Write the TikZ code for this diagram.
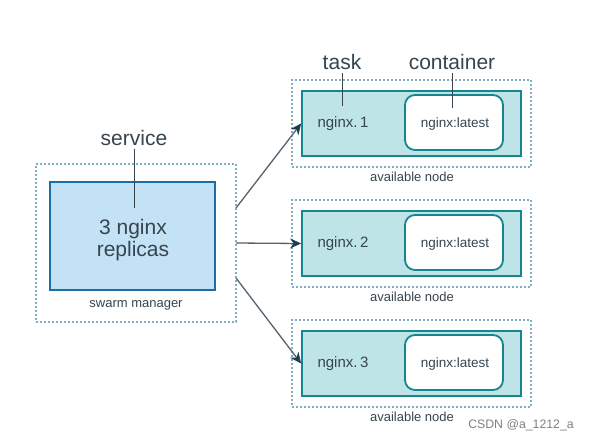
\documentclass[tikz,border=0pt]{standalone}
\usepackage{fontspec}
\setmainfont{Liberation Sans}
\usetikzlibrary{arrows.meta,positioning}

\definecolor{txtgray}{HTML}{36454F}
\definecolor{dotblue}{HTML}{7FAFC0}
\definecolor{mgrfill}{HTML}{C3E2F5}
\definecolor{mgrline}{HTML}{1B6DA6}
\definecolor{nodefill}{HTML}{BEE4E8}
\definecolor{nodeline}{HTML}{15858F}
\definecolor{arrgray}{HTML}{56636C}
\definecolor{tipblue}{HTML}{1C3D58}

\tikzset{
  dotbox/.style={draw=dotblue, line width=2pt, dash pattern=on 1.6pt off 2.4pt},
  mgrbox/.style={draw=mgrline, fill=mgrfill, line width=1.8pt},
  taskbox/.style={draw=nodeline, fill=nodefill, line width=1.8pt},
  ctrbox/.style={draw=nodeline, fill=white, line width=1.8pt, rounded corners=10pt},
  biglabel/.style={text=txtgray, font=\fontsize{21}{25}\selectfont},
  smalllabel/.style={text=txtgray, font=\fontsize{13}{15}\selectfont},
  tasklabel/.style={text=txtgray, font=\fontsize{15}{17}\selectfont},
  ctrlabel/.style={text=txtgray, font=\fontsize{13.5}{16}\selectfont},
  pointer/.style={draw=txtgray, line width=1pt},
  dispatch/.style={draw=arrgray, line width=1.3pt, -{Stealth[length=11pt,width=10pt,fill=tipblue,color=tipblue]}}
}

\begin{document}
\begin{tikzpicture}[x=1pt, y=-1pt]
        \useasboundingbox[fill=white] (0,0) rectangle (592,440);

        % swarm manager
        \node[dotbox, minimum width=200pt, minimum height=158pt] (mgr) at (136,243) {};
        \node[mgrbox, minimum width=165pt, minimum height=108pt] (svc) at (132.5,236) {};
        \node[biglabel, align=center] (replicas) at (133,240) {3 nginx\\[-3pt]replicas};
        \node[smalllabel] (mgrname) at (136,305) {swarm manager};
        \node[biglabel] (service) at (134,138) {service};
        \coordinate (svcend) at (134,208);
        \draw[pointer] (service.south) -- (svcend);

        % available nodes
        \node[dotbox, minimum width=239pt, minimum height=87pt] (avail1) at (411.5,123.5) {};
        \node[taskbox, minimum width=219pt, minimum height=65pt] (task1) at (411.5,123.5) {};
        \node[ctrbox, minimum width=98pt, minimum height=55pt] (ctr1) at (454,122.5) {};
        \node[tasklabel] (tname1) at (343,124) {nginx.\,1};
        \node[ctrlabel] (cname1) at (455,124) {nginx:latest};
        \node[smalllabel] (aname1) at (412,177) {available node};

        \node[dotbox, minimum width=239pt, minimum height=87pt] (avail2) at (411.5,243.5) {};
        \node[taskbox, minimum width=219pt, minimum height=65pt] (task2) at (411.5,243.5) {};
        \node[ctrbox, minimum width=98pt, minimum height=55pt] (ctr2) at (454,242.5) {};
        \node[tasklabel] (tname2) at (343,244) {nginx.\,2};
        \node[ctrlabel] (cname2) at (455,244) {nginx:latest};
        \node[smalllabel] (aname2) at (412,297) {available node};

        \node[dotbox, minimum width=239pt, minimum height=87pt] (avail3) at (411.5,363.5) {};
        \node[taskbox, minimum width=219pt, minimum height=65pt] (task3) at (411.5,363.5) {};
        \node[ctrbox, minimum width=98pt, minimum height=55pt] (ctr3) at (454,362.5) {};
        \node[tasklabel] (tname3) at (343,364) {nginx.\,3};
        \node[ctrlabel] (cname3) at (455,364) {nginx:latest};
        \node[smalllabel] (aname3) at (412,417) {available node};

        % callouts
        \node[biglabel] (task) at (342,62) {task};
        \node[biglabel] (container) at (452,62) {container};
        \coordinate (taskend) at (342,106);
        \coordinate (ctrend) at (452,108);
        \draw[pointer] (task.south) -- (taskend);
        \draw[pointer] (container.south) -- (ctrend);

        % dispatch arrows
        \coordinate (out1) at (236,208);
        \coordinate (out2) at (236,243);
        \coordinate (out3) at (236,278);
        \draw[dispatch] (out1) -- (task1.west);
        \draw[dispatch] (out2) -- (task2.west);
        \draw[dispatch] (out3) -- (task3.west);

        \node[text=gray, font=\fontsize{12.3}{14}\selectfont] (mark) at (521,425) {CSDN @a\_1212\_a};
      \end{tikzpicture}
\end{document}
